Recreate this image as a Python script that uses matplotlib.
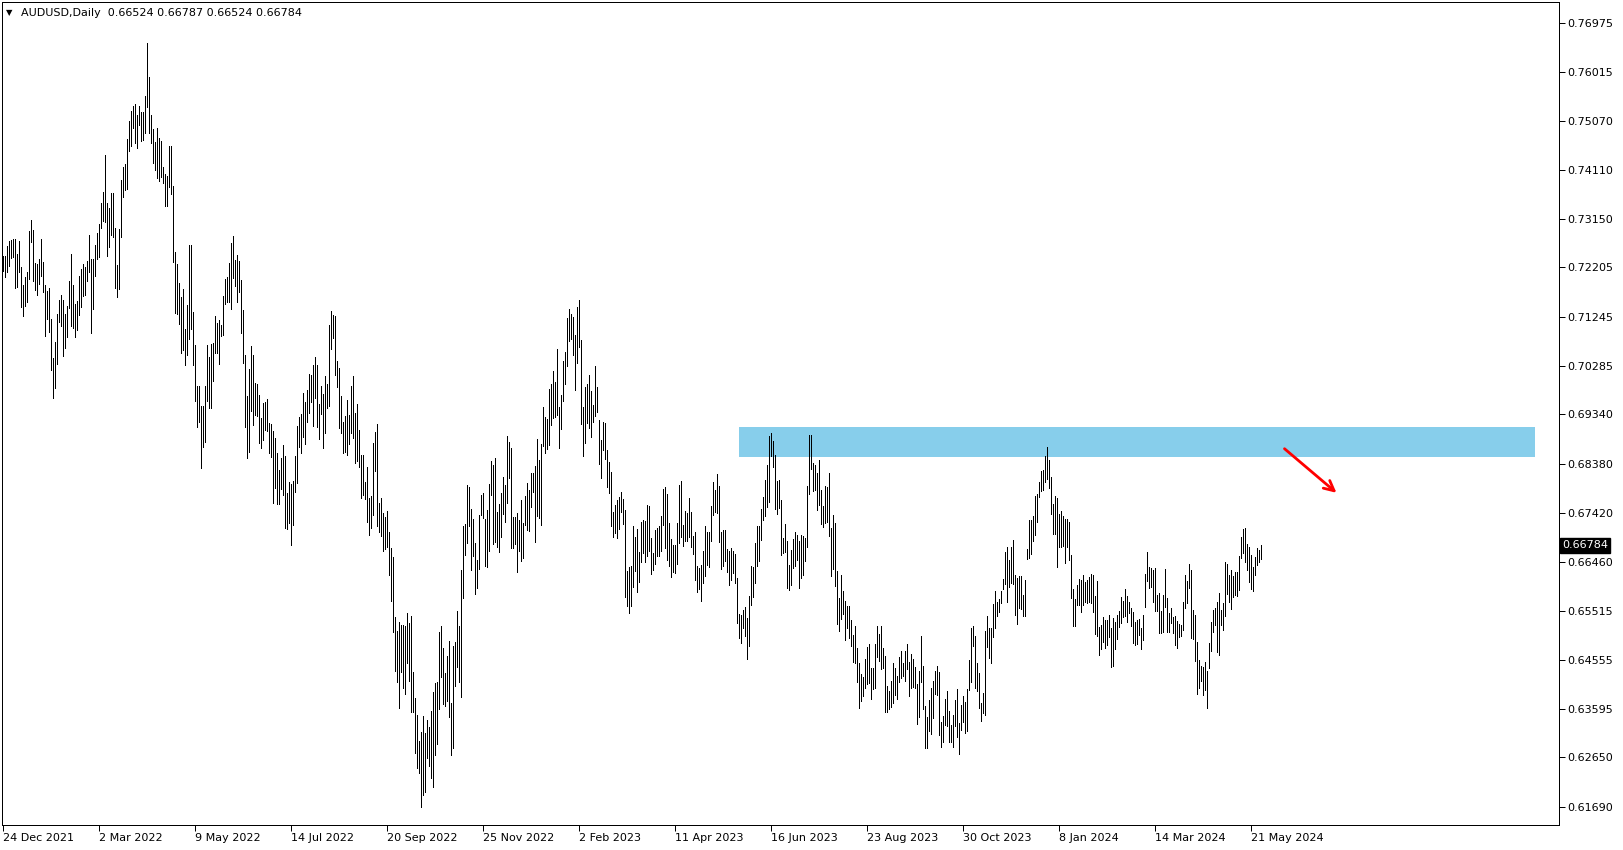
import matplotlib
matplotlib.use("Agg")
import matplotlib.pyplot as plt
import matplotlib.transforms as mtransforms
from matplotlib.patches import Rectangle

plt.rcParams['font.family'] = ['DejaVu Sans']

# AUDUSD daily bars in pips (0.7243 -> 7243)
high_pips = [
    7243, 7243, 7262, 7272, 7274, 7276, 7276, 7247, 7272, 7222,
    7186, 7202, 7212, 7292, 7313, 7293, 7230, 7227, 7237, 7276,
    7232, 7186, 7175, 7180, 7120, 7043, 7076, 7130, 7157, 7167,
    7157, 7130, 7145, 7194, 7247, 7186, 7149, 7155, 7204, 7217,
    7228, 7222, 7233, 7284, 7237, 7236, 7264, 7287, 7305, 7347,
    7368, 7440, 7347, 7336, 7365, 7365, 7297, 7225, 7295, 7391,
    7417, 7423, 7470, 7506, 7526, 7535, 7539, 7518, 7535, 7524,
    7524, 7555, 7659, 7592, 7518, 7490, 7466, 7493, 7472, 7467,
    7417, 7403, 7399, 7457, 7457, 7380, 7251, 7228, 7191, 7162,
    7178, 7100, 7147, 7264, 7264, 7133, 7070, 6990, 6990, 6950,
    6950, 6990, 7070, 7046, 7071, 7074, 7126, 7113, 7118, 7108,
    7165, 7198, 7202, 7230, 7269, 7282, 7235, 7245, 7233, 7196,
    7137, 7050, 6970, 7022, 7067, 7050, 6996, 6993, 6971, 6927,
    6957, 6958, 6964, 6918, 6916, 6901, 6888, 6859, 6825, 6848,
    6874, 6853, 6780, 6802, 6799, 6804, 6853, 6911, 6929, 6934,
    6976, 6958, 6981, 7012, 7010, 7030, 7046, 7030, 6954, 6990,
    6974, 7009, 6993, 7109, 7136, 7128, 7125, 7038, 7025, 6969,
    6920, 6930, 6962, 6932, 6990, 7008, 6936, 6954, 6904, 6855,
    6855, 6803, 6832, 6771, 6774, 6878, 6899, 6915, 6761, 6771,
    6741, 6733, 6746, 6705, 6673, 6655, 6538, 6512, 6530, 6524,
    6524, 6522, 6546, 6527, 6540, 6432, 6380, 6347, 6298, 6315,
    6346, 6312, 6338, 6325, 6355, 6393, 6411, 6413, 6510, 6521,
    6479, 6429, 6463, 6492, 6372, 6482, 6490, 6551, 6521, 6630,
    6716, 6721, 6796, 6793, 6749, 6729, 6684, 6650, 6738, 6777,
    6780, 6729, 6747, 6799, 6843, 6835, 6848, 6743, 6760, 6780,
    6811, 6796, 6892, 6881, 6869, 6734, 6733, 6741, 6728, 6767,
    6723, 6775, 6801, 6786, 6820, 6820, 6834, 6886, 6845, 6877,
    6949, 6928, 6925, 6983, 6993, 7019, 6998, 7061, 6948, 6972,
    7038, 7056, 7121, 7139, 7130, 7123, 7089, 7144, 7157, 7079,
    6949, 6988, 6994, 7011, 6980, 6952, 7028, 6988, 6923, 6884,
    6920, 6918, 6864, 6842, 6822, 6744, 6757, 6767, 6773, 6783,
    6768, 6747, 6629, 6636, 6638, 6716, 6695, 6710, 6666, 6725,
    6728, 6726, 6757, 6756, 6693, 6664, 6708, 6713, 6716, 6736,
    6788, 6793, 6778, 6723, 6691, 6680, 6680, 6723, 6796, 6804,
    6718, 6745, 6742, 6771, 6743, 6697, 6705, 6638, 6635, 6640,
    6667, 6716, 6704, 6705, 6756, 6803, 6786, 6817, 6794, 6705,
    6708, 6708, 6671, 6667, 6674, 6667, 6662, 6614, 6545, 6543,
    6553, 6558, 6536, 6580, 6638, 6636, 6684, 6716, 6716, 6749,
    6772, 6806, 6835, 6892, 6897, 6882, 6855, 6804, 6806, 6767,
    6692, 6720, 6688, 6640, 6670, 6691, 6704, 6699, 6688, 6699,
    6696, 6692, 6794, 6894, 6894, 6840, 6835, 6820, 6845, 6787,
    6755, 6794, 6793, 6820, 6713, 6738, 6722, 6629, 6575, 6621,
    6590, 6570, 6560, 6560, 6533, 6503, 6522, 6479, 6450, 6428,
    6421, 6457, 6481, 6486, 6440, 6440, 6486, 6522, 6506, 6522,
    6478, 6463, 6405, 6395, 6415, 6450, 6440, 6424, 6460, 6473,
    6449, 6473, 6486, 6452, 6466, 6457, 6442, 6408, 6433, 6501,
    6444, 6366, 6343, 6377, 6400, 6415, 6433, 6444, 6431, 6335,
    6345, 6379, 6394, 6356, 6329, 6348, 6377, 6399, 6332, 6368,
    6384, 6374, 6399, 6455, 6518, 6522, 6501, 6449, 6429, 6371,
    6390, 6512, 6541, 6517, 6517, 6564, 6589, 6569, 6574, 6590,
    6613, 6665, 6676, 6650, 6676, 6689, 6621, 6614, 6619, 6619,
    6582, 6611, 6672, 6728, 6728, 6735, 6774, 6778, 6803, 6824,
    6826, 6852, 6871, 6845, 6812, 6760, 6775, 6770, 6740, 6745,
    6735, 6730, 6730, 6725, 6660, 6593, 6573, 6601, 6612, 6611,
    6621, 6608, 6611, 6616, 6623, 6621, 6579, 6609, 6520, 6523,
    6538, 6533, 6533, 6543, 6517, 6536, 6530, 6543, 6551, 6577,
    6571, 6593, 6580, 6569, 6556, 6549, 6530, 6533, 6534, 6517,
    6543, 6623, 6666, 6637, 6635, 6631, 6634, 6581, 6585, 6550,
    6582, 6633, 6576, 6546, 6557, 6538, 6540, 6531, 6525, 6523,
    6568, 6620, 6610, 6642, 6631, 6553, 6543, 6491, 6455, 6444,
    6442, 6452, 6433, 6488, 6530, 6553, 6556, 6568, 6585, 6553,
    6566, 6646, 6642, 6621, 6631, 6618, 6626, 6626, 6657, 6694,
    6711, 6712, 6681, 6676, 6660, 6637, 6655, 6673, 6670, 6679,
]
low_pips = [
    7214, 7202, 7211, 7224, 7238, 7241, 7181, 7182, 7212, 7144,
    7126, 7146, 7154, 7198, 7271, 7194, 7176, 7167, 7188, 7204,
    7172, 7087, 7119, 7094, 7020, 6965, 6985, 7032, 7115, 7106,
    7048, 7063, 7084, 7141, 7107, 7102, 7084, 7098, 7128, 7143,
    7164, 7167, 7194, 7212, 7092, 7139, 7204, 7236, 7240, 7298,
    7311, 7310, 7243, 7261, 7284, 7280, 7180, 7163, 7178, 7280,
    7358, 7371, 7373, 7448, 7457, 7493, 7464, 7453, 7498, 7468,
    7469, 7482, 7534, 7483, 7464, 7425, 7410, 7394, 7389, 7397,
    7386, 7341, 7340, 7378, 7363, 7232, 7132, 7130, 7110, 7054,
    7060, 7030, 7050, 7080, 7100, 7030, 6960, 6910, 6920, 6829,
    6870, 6880, 6960, 6947, 6947, 7000, 7054, 7054, 7033, 7087,
    7088, 7149, 7153, 7153, 7139, 7199, 7184, 7153, 7173, 7092,
    7035, 6910, 6848, 6861, 6941, 6913, 6933, 6931, 6879, 6868,
    6884, 6903, 6902, 6859, 6851, 6762, 6791, 6760, 6760, 6788,
    6777, 6712, 6710, 6723, 6680, 6718, 6783, 6801, 6871, 6858,
    6890, 6877, 6920, 6936, 6958, 6911, 6966, 6910, 6886, 6934,
    6868, 6897, 6946, 6951, 7061, 7083, 7011, 6988, 6908, 6897,
    6858, 6860, 6855, 6876, 6897, 6888, 6839, 6844, 6832, 6771,
    6777, 6769, 6725, 6699, 6712, 6738, 6823, 6717, 6704, 6696,
    6668, 6672, 6675, 6620, 6571, 6509, 6434, 6412, 6361, 6432,
    6400, 6389, 6449, 6415, 6354, 6353, 6273, 6245, 6234, 6169,
    6192, 6198, 6263, 6249, 6225, 6208, 6270, 6292, 6359, 6421,
    6369, 6366, 6375, 6344, 6270, 6283, 6405, 6442, 6413, 6383,
    6575, 6660, 6684, 6717, 6630, 6658, 6583, 6596, 6632, 6738,
    6731, 6639, 6637, 6667, 6777, 6682, 6686, 6676, 6666, 6695,
    6739, 6725, 6762, 6809, 6674, 6673, 6681, 6627, 6668, 6648,
    6654, 6718, 6708, 6707, 6753, 6783, 6686, 6736, 6731, 6718,
    6873, 6858, 6866, 6874, 6913, 6926, 6928, 6933, 6869, 6905,
    6960, 6993, 7029, 7077, 7081, 7050, 6981, 7035, 7065, 6915,
    6853, 6879, 6917, 6907, 6889, 6920, 6931, 6938, 6838, 6809,
    6864, 6846, 6793, 6780, 6717, 6695, 6702, 6692, 6710, 6744,
    6720, 6578, 6561, 6547, 6561, 6598, 6629, 6588, 6608, 6647,
    6664, 6647, 6658, 6667, 6622, 6630, 6643, 6658, 6658, 6667,
    6719, 6674, 6650, 6639, 6617, 6627, 6625, 6643, 6684, 6694,
    6678, 6687, 6687, 6695, 6676, 6661, 6611, 6588, 6593, 6570,
    6606, 6619, 6640, 6637, 6687, 6737, 6744, 6742, 6686, 6632,
    6639, 6648, 6627, 6602, 6611, 6625, 6606, 6528, 6497, 6489,
    6517, 6501, 6456, 6482, 6562, 6577, 6606, 6639, 6649, 6689,
    6728, 6736, 6754, 6764, 6853, 6832, 6749, 6739, 6751, 6660,
    6664, 6666, 6595, 6592, 6601, 6635, 6639, 6650, 6596, 6614,
    6621, 6649, 6676, 6778, 6827, 6785, 6787, 6748, 6757, 6720,
    6714, 6723, 6725, 6696, 6619, 6632, 6600, 6525, 6512, 6535,
    6545, 6494, 6517, 6498, 6483, 6452, 6450, 6413, 6362, 6375,
    6385, 6401, 6408, 6411, 6379, 6399, 6400, 6460, 6453, 6437,
    6439, 6354, 6354, 6359, 6364, 6372, 6386, 6379, 6413, 6420,
    6423, 6415, 6437, 6384, 6401, 6402, 6401, 6330, 6343, 6412,
    6360, 6283, 6284, 6317, 6311, 6342, 6388, 6386, 6308, 6286,
    6296, 6329, 6327, 6295, 6296, 6286, 6327, 6304, 6271, 6319,
    6334, 6312, 6316, 6397, 6413, 6483, 6401, 6395, 6362, 6337,
    6351, 6348, 6481, 6459, 6450, 6499, 6518, 6540, 6548, 6566,
    6594, 6603, 6569, 6598, 6605, 6603, 6542, 6525, 6556, 6555,
    6540, 6540, 6652, 6654, 6662, 6688, 6698, 6724, 6772, 6785,
    6786, 6803, 6808, 6790, 6740, 6700, 6700, 6637, 6675, 6675,
    6677, 6645, 6675, 6650, 6575, 6521, 6521, 6562, 6562, 6549,
    6562, 6569, 6566, 6569, 6566, 6549, 6506, 6501, 6465, 6476,
    6491, 6478, 6484, 6500, 6441, 6443, 6476, 6495, 6519, 6528,
    6538, 6541, 6530, 6547, 6521, 6488, 6484, 6486, 6504, 6476,
    6494, 6559, 6610, 6595, 6598, 6568, 6550, 6550, 6507, 6507,
    6510, 6559, 6510, 6510, 6527, 6507, 6485, 6479, 6499, 6501,
    6514, 6557, 6566, 6596, 6498, 6496, 6454, 6388, 6400, 6414,
    6387, 6397, 6361, 6439, 6472, 6510, 6524, 6470, 6465, 6524,
    6514, 6540, 6583, 6568, 6555, 6577, 6582, 6579, 6592, 6654,
    6663, 6647, 6631, 6608, 6594, 6590, 6621, 6641, 6647, 6652,
]

date_labels = ['24 Dec 2021', '2 Mar 2022', '9 May 2022', '14 Jul 2022', '20 Sep 2022',
               '25 Nov 2022', '2 Feb 2023', '11 Apr 2023', '16 Jun 2023', '23 Aug 2023',
               '30 Oct 2023', '8 Jan 2024', '14 Mar 2024', '21 May 2024']
bars_per_label = 48

price_ticks = [0.76975, 0.76015, 0.75070, 0.74110, 0.73150, 0.72205, 0.71245, 0.70285,
               0.69340, 0.68380, 0.67420, 0.66460, 0.65515, 0.64555, 0.63595, 0.62650, 0.61690]

title = 'AUDUSD,Daily  0.66524 0.66787 0.66524 0.66784'
last_price = 0.66784

# resistance zone (bar index span, price span) and the red arrow drawn on the chart
zone_bars = (368, 766)
zone_prices = (0.6851, 0.6910)
arrow_start = (640.5, 0.6867)
arrow_end = (666.5, 0.6781)

W, H = 1624, 850
fig = plt.figure(figsize=(W / 100, H / 100), dpi=100)
ax = fig.add_axes([2 / W, 1 - 825 / H, 1557 / W, 823 / H])

n = len(high_pips)
xs = list(range(n))
highs = [h / 10000 for h in high_pips]
lows = [l / 10000 for l in low_pips]

# 1px bars, 2px apart, sitting on pixel centres
ax.vlines(xs, lows, highs, colors='black', linewidth=0.72, antialiased=False, zorder=3)
ax.add_patch(Rectangle((zone_bars[0], zone_prices[0]), zone_bars[1] - zone_bars[0],
                       zone_prices[1] - zone_prices[0], facecolor='#87CEEB',
                       edgecolor='none', zorder=1))
ax.annotate('', xy=arrow_end, xytext=arrow_start,
            arrowprops=dict(arrowstyle='->', color='red', lw=2, mutation_scale=18,
                            shrinkA=0, shrinkB=0), zorder=4)

ax.set_xlim(-0.75, 777.75)
ax.set_ylim(0.613325, 0.77381)

ax.yaxis.tick_right()
ax.set_yticks(price_ticks)
ax.set_yticklabels(['%.5f' % p for p in price_ticks])
ax.set_xticks([i * bars_per_label for i in range(len(date_labels))])
ax.set_xticklabels(date_labels, ha='left')
ax.tick_params(axis='both', labelsize=8, length=4, width=0.72, color='black')
ax.tick_params(axis='x', pad=1.5)
ax.tick_params(axis='y', pad=2)
for sp in ax.spines.values():
    sp.set_linewidth(0.72)
    sp.set_color('black')

trans = mtransforms.blended_transform_factory(ax.transAxes, ax.transData)
ax.text(1 + 3 / 1557, last_price, '%.5f' % last_price, transform=trans, color='white',
        fontsize=8, va='center', ha='left',
        bbox=dict(facecolor='black', edgecolor='black', boxstyle='square,pad=0.2'))

fig.text(6 / W, 1 - 12.5 / H, '\u25bc', fontsize=6, va='center', ha='left')
fig.text(21 / W, 1 - 12.5 / H, title, fontsize=8, va='center', ha='left')

fig.savefig('out.png', dpi=100, facecolor='white')
